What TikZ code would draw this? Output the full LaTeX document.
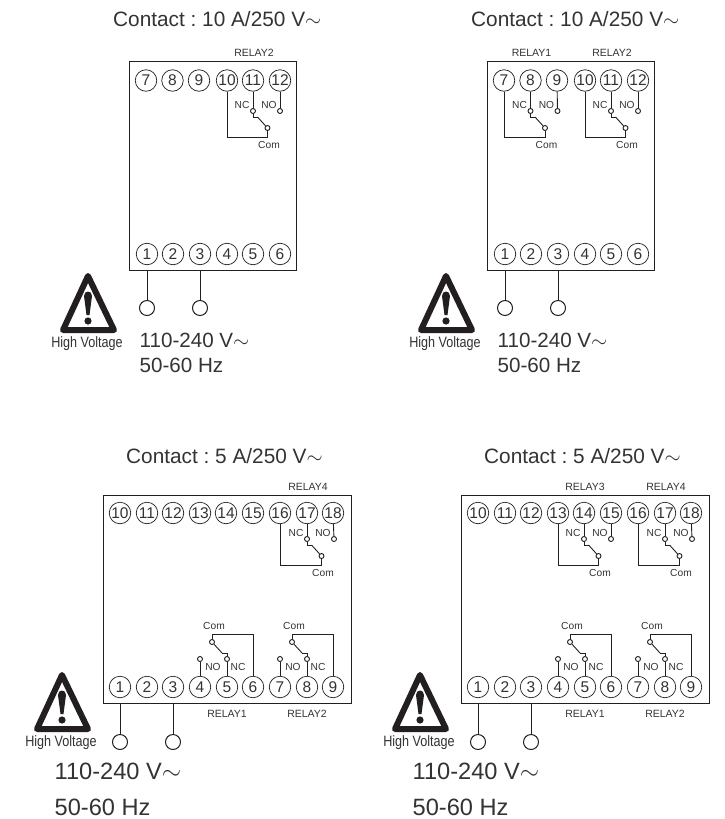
\documentclass[tikz,border=0pt]{standalone}
\usepackage{fontspec}
\usepackage{graphicx}
\setmainfont{Liberation Sans}
\definecolor{ink}{HTML}{231F20}
\definecolor{txt}{HTML}{333333}
\newcommand{\wave}{$\sim$}
\tikzset{
  x=1pt,y=-1pt,
  every node/.style={text=txt,font=\fontsize{10}{12}\selectfont},
  wire/.style={draw=ink,line width=0.9pt},
  term/.style={circle,draw=ink,line width=0.7pt,minimum size=21.5pt,inner sep=0pt,font=\fontsize{15.5}{15.5}\selectfont},
  boxn/.style={draw=ink,line width=0.9pt,inner sep=0pt,rectangle},
  dot/.style={circle,draw=ink,fill=white,line width=0.9pt,minimum size=5pt,inner sep=0pt},
  supply/.style={circle,draw=ink,fill=white,line width=1pt,minimum size=15pt,inner sep=0pt},
  contact/.style={anchor=base west,inner sep=0pt,font=\fontsize{20.8}{22}\selectfont},
  midtext/.style={anchor=base west,inner sep=0pt,font=\fontsize{20.6}{22}\selectfont},
  bigtext/.style={anchor=base west,inner sep=0pt,font=\fontsize{23.6}{25}\selectfont},
  small/.style={inner sep=0pt,font=\fontsize{10.2}{11}\selectfont},
  relaylab/.style={inner sep=0pt,font=\fontsize{10.5}{11}\selectfont},
  hvlab/.style={inner sep=0pt,font=\fontsize{15}{15}\selectfont},
}
% terminals: prefix, y, list of number/x
\newcommand{\termrow}[3]{\foreach \n/\xx in {#3}{\node[term] (#1\n) at (\xx,#2) {\n};}}
% relay hanging from the top row: id, NC x, reference y, com terminal, nc terminal, no terminal, label, label y
\newcommand{\relayup}[8]{%
  \node[dot] (#1nc) at (#2,#3+30) {};
  \node[dot] (#1no) at (#2+27,#3+30) {};
  \node[dot] (#1com) at (#2+14.5,#3+47) {};
  \coordinate (#1j) at (#2+14.5,#3+56);
  \coordinate (#1s) at (#2,#3+36);
  \coordinate (#1b) at (#2+4.5,#3+36);
  \draw[wire] (#4) |- (#1j) -- (#1com);
  \draw[wire] (#5) -- (#1nc);
  \draw[wire] (#6) -- (#1no);
  \draw[wire] (#1nc) -- (#1s) -- (#1b);
  \draw[wire] (#1b) -- (#1com);
  \node[small] (#1ncl) at (#2-11,#3+24) {NC};
  \node[small] (#1nol) at (#2+16,#3+24) {NO};
  \node[small] (#1coml) at (#2+16,#3+64) {Com};
  \node[relaylab] (#1lab) at (#2+1,#8) {#7};
}
% relay rising from the bottom row: id, NO x, row y, com terminal, nc terminal, no terminal, label, label y
\newcommand{\relaydown}[8]{%
  \node[dot] (#1no) at (#2,#3-28) {};
  \node[dot] (#1nc) at (#2+27,#3-28) {};
  \node[dot] (#1com) at (#2+12,#3-45) {};
  \coordinate (#1j) at (#2+12,#3-53);
  \coordinate (#1s) at (#2+27,#3-34);
  \coordinate (#1b) at (#2+22,#3-34);
  \draw[wire] (#4) |- (#1j) -- (#1com);
  \draw[wire] (#5) -- (#1nc);
  \draw[wire] (#6) -- (#1no);
  \draw[wire] (#1nc) -- (#1s) -- (#1b);
  \draw[wire] (#1b) -- (#1com);
  \node[small] (#1nol) at (#2+13,#3-20) {NO};
  \node[small] (#1ncl) at (#2+38,#3-20) {NC};
  \node[small] (#1coml) at (#2+14,#3-61) {Com};
  \node[relaylab] (#1lab) at (#2+27,#8) {#7};
}
% warning sign
\newcommand{\warn}[1]{%
  \draw[draw=ink,line width=6pt,line join=round,fill=white] (88,276) -- (63,330) -- (114,330) -- cycle;
  \fill[ink] (84,296) .. controls (84,290) and (92,290) .. (92,296) -- (89.5,315) -- (86.5,315) -- cycle;
  \fill[ink] (88,321) circle (3.6);
  \node[hvlab] (#1hv) at (87,344) {\scalebox{0.84}[1]{High Voltage}};
}
% panel with six terminals
\newcommand{\sixframe}[1]{%
  \node[boxn,minimum width=167pt,minimum height=209pt] (#1box) at (212.5,165.5) {};
  \termrow{#1t}{80.5}{7/146,8/172.5,9/199,10/227,11/253,12/280}
  \termrow{#1b}{254}{1/147,2/173,3/200,4/227,5/253,6/280}
  \node[supply] (#1sa) at (147,308) {};
  \node[supply] (#1sb) at (200,308) {};
  \draw[wire] (#1box.south -| #1sa) -- (#1sa);
  \draw[wire] (#1box.south -| #1sb) -- (#1sb);
  \warn{#1}
  \node[contact] (#1con) at (113,27) {Contact : 10 A/250 V\wave};
  \node[midtext] (#1v) at (139.5,347) {110-240 V\wave};
  \node[midtext] (#1hz) at (139.5,372) {50-60 Hz};
}
% panel with nine terminals in each row
\newcommand{\nineframe}[1]{%
  \node[boxn,minimum width=248pt,minimum height=208pt] (#1box) at (227,599) {};
  \termrow{#1t}{513}{10/120,11/147,12/173,13/200,14/226,15/253,16/280,17/307,18/333}
  \termrow{#1b}{687}{1/120,2/147,3/173,4/200,5/227,6/253,7/280,8/307,9/333}
  \node[supply] (#1sa) at (120,742) {};
  \node[supply] (#1sb) at (173,742) {};
  \draw[wire] (#1box.south -| #1sa) -- (#1sa);
  \draw[wire] (#1box.south -| #1sb) -- (#1sb);
  \begin{scope}[shift={(-26,399)}]\warn{#1}\end{scope}
  \node[contact] (#1con) at (126,463) {Contact : 5 A/250 V\wave};
  \node[bigtext] (#1v) at (54.5,779) {110-240 V\wave};
  \node[bigtext] (#1hz) at (54.5,815) {50-60 Hz};
  \relaydown{#1ra}{200}{687}{#1b6}{#1b5}{#1b4}{RELAY1}{714}
  \relaydown{#1rb}{280}{687}{#1b9}{#1b8}{#1b7}{RELAY2}{714}
  \relayup{#1rd}{307}{509}{#1t16}{#1t17}{#1t18}{RELAY4}{487}
}
\frenchspacing
\begin{document}
\begin{tikzpicture}
\useasboundingbox (0,0) rectangle (724,819);
\fill[white] (0,0) rectangle (724,819);
% panel 1
\sixframe{pa}
\relayup{par}{253}{81}{pat10}{pat11}{pat12}{RELAY2}{53}
% panel 2
\begin{scope}[shift={(358,0)}]
\sixframe{pb}
\relayup{pbr}{253}{81}{pbt10}{pbt11}{pbt12}{RELAY2}{53}
\relayup{pbq}{172.5}{81}{pbt7}{pbt8}{pbt9}{RELAY1}{53}
\end{scope}
% panel 3
\nineframe{pc}
% panel 4
\begin{scope}[shift={(358,0)}]
\nineframe{pd}
\relayup{pdq}{226}{509}{pdt13}{pdt14}{pdt15}{RELAY3}{487}
\end{scope}
\end{tikzpicture}
\end{document}
